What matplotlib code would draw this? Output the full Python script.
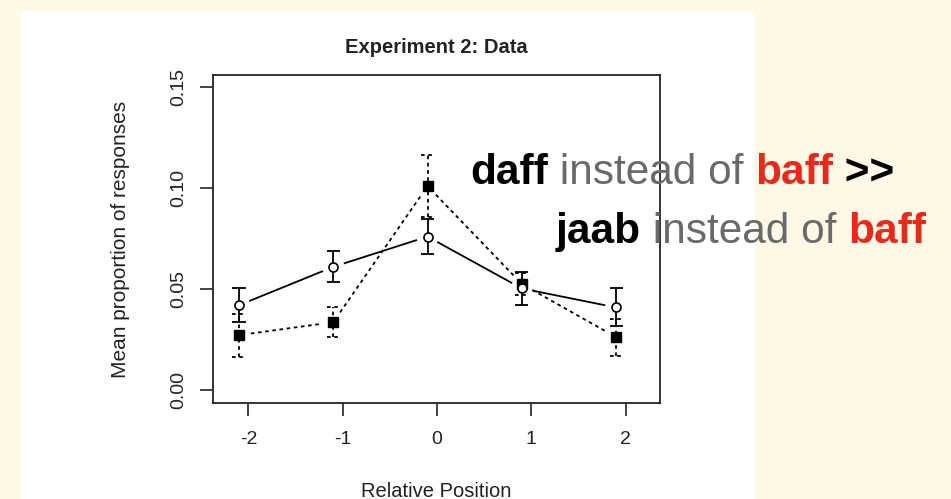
import numpy as np
import matplotlib.pyplot as plt
from matplotlib.patches import Rectangle

plt.rcParams['font.family'] = ['Liberation Sans', 'DejaVu Sans']

positions = [-2, -1, 0, 1, 2]
dodge = -0.1

# open circles, solid line
circle_mean = [0.042, 0.061, 0.076, 0.0503, 0.0409]
circle_se = [0.0083, 0.0077, 0.0088, 0.0082, 0.0094]
# filled squares, dotted line
square_mean = [0.0272, 0.0336, 0.101, 0.0525, 0.0262]
square_se = [0.0106, 0.0075, 0.0153, 0.0055, 0.0092]

x_ticks = [-2, -1, 0, 1, 2]
y_ticks = [0.00, 0.05, 0.10, 0.15]

cream = '#fef8e6'
dots = (0, (2.0, 2.0))
gap_px = 12
cap_half = 0.07

fig = plt.figure(figsize=(9.51, 4.99), dpi=100, facecolor=cream)
fig.patches.append(Rectangle((21/951, 0), (755-21)/951, (499-11)/499,
                             transform=fig.transFigure, facecolor='white',
                             edgecolor='none', zorder=-1))

ax = fig.add_axes([213/951, 1-403/499, (660-213)/951, (403-75)/499])
ax.set_facecolor('white')
ax.set_xlim(-2.375, 2.365)
ax.set_ylim(-0.0064, 0.156)

xs = np.array(positions) + dodge


def gapped_line(x, y, **kw):
    # R type="b": segments stop short of the points
    pts = ax.transData.transform(np.column_stack([x, y]))
    inv = ax.transData.inverted()
    for p0, p1 in zip(pts[:-1], pts[1:]):
        d = p1 - p0
        n = np.hypot(*d)
        a = p0 + d / n * gap_px
        b = p1 - d / n * gap_px
        seg = inv.transform(np.array([a, b]))
        ax.plot(seg[:, 0], seg[:, 1], color='black', **kw)


def err_bars(x, m, se, ls):
    m = np.array(m)
    se = np.array(se)
    ax.vlines(x, m - se, m + se, color='black', lw=1.3, linestyles=[ls])
    for yy in (m - se, m + se):
        ax.hlines(yy, x - cap_half, x + cap_half, color='black', lw=1.3,
                  linestyles=[ls])


gapped_line(xs, square_mean, lw=1.3, linestyle=dots)
gapped_line(xs, circle_mean, lw=1.3, linestyle='-')
err_bars(xs, square_mean, square_se, dots)
err_bars(xs, circle_mean, circle_se, '-')
ax.plot(xs, square_mean, 's', color='black', ms=6.5, zorder=5)
ax.plot(xs, circle_mean, 'o', mfc='white', mec='black', mew=1.2, ms=6.5,
        zorder=5)

for s in ax.spines.values():
    s.set_linewidth(1.3)
    s.set_color('#222222')

ax.set_xticks(x_ticks)
ax.set_xticklabels([str(v) for v in x_ticks])
ax.set_yticks(y_ticks)
ax.set_yticklabels(['%.2f' % v for v in y_ticks])
ax.tick_params(axis='both', direction='out', length=9.5, width=1.2,
               labelsize=14, colors='#222222')
ax.tick_params(axis='x', pad=11)
ax.tick_params(axis='y', pad=9)
for lab in ax.get_yticklabels():
    lab.set_rotation(90)
    lab.set_va('center')

ax.set_title('Experiment 2: Data', fontsize=14.5, fontweight='bold', pad=16,
             color='#222222')
ax.set_xlabel('Relative Position', fontsize=14.5, labelpad=24,
              color='#222222')
ax.set_ylabel('Mean proportion of responses', fontsize=15, labelpad=29,
              color='#222222')

# overlay annotation
gray = '#6a6a6a'
red = '#e8291c'
size = 30.5
line1 = [('daff', 'black', 'bold'), (' instead of ', gray, 'normal'),
         ('baff', red, 'bold'), (' >>', 'black', 'bold')]
line2 = [('jaab', 'black', 'bold'), (' instead of ', gray, 'normal'),
         ('baff', red, 'bold')]


def run(parts, x0, y0):
    prev = fig.text(x0, y0, parts[0][0], color=parts[0][1],
                    fontweight=parts[0][2], fontsize=size, va='bottom',
                    ha='left', zorder=10)
    for txt, col, w in parts[1:]:
        prev = fig.add_artist(plt.Annotation(
            txt, xy=(1, 0), xycoords=prev, va='bottom', ha='left',
            color=col, fontweight=w, fontsize=size, annotation_clip=False,
            zorder=10))


run(line1, 470/951, 1-193/499)
run(line2, 556/951, 1-252/499)

fig.savefig('out.png', dpi=100, facecolor=cream)
